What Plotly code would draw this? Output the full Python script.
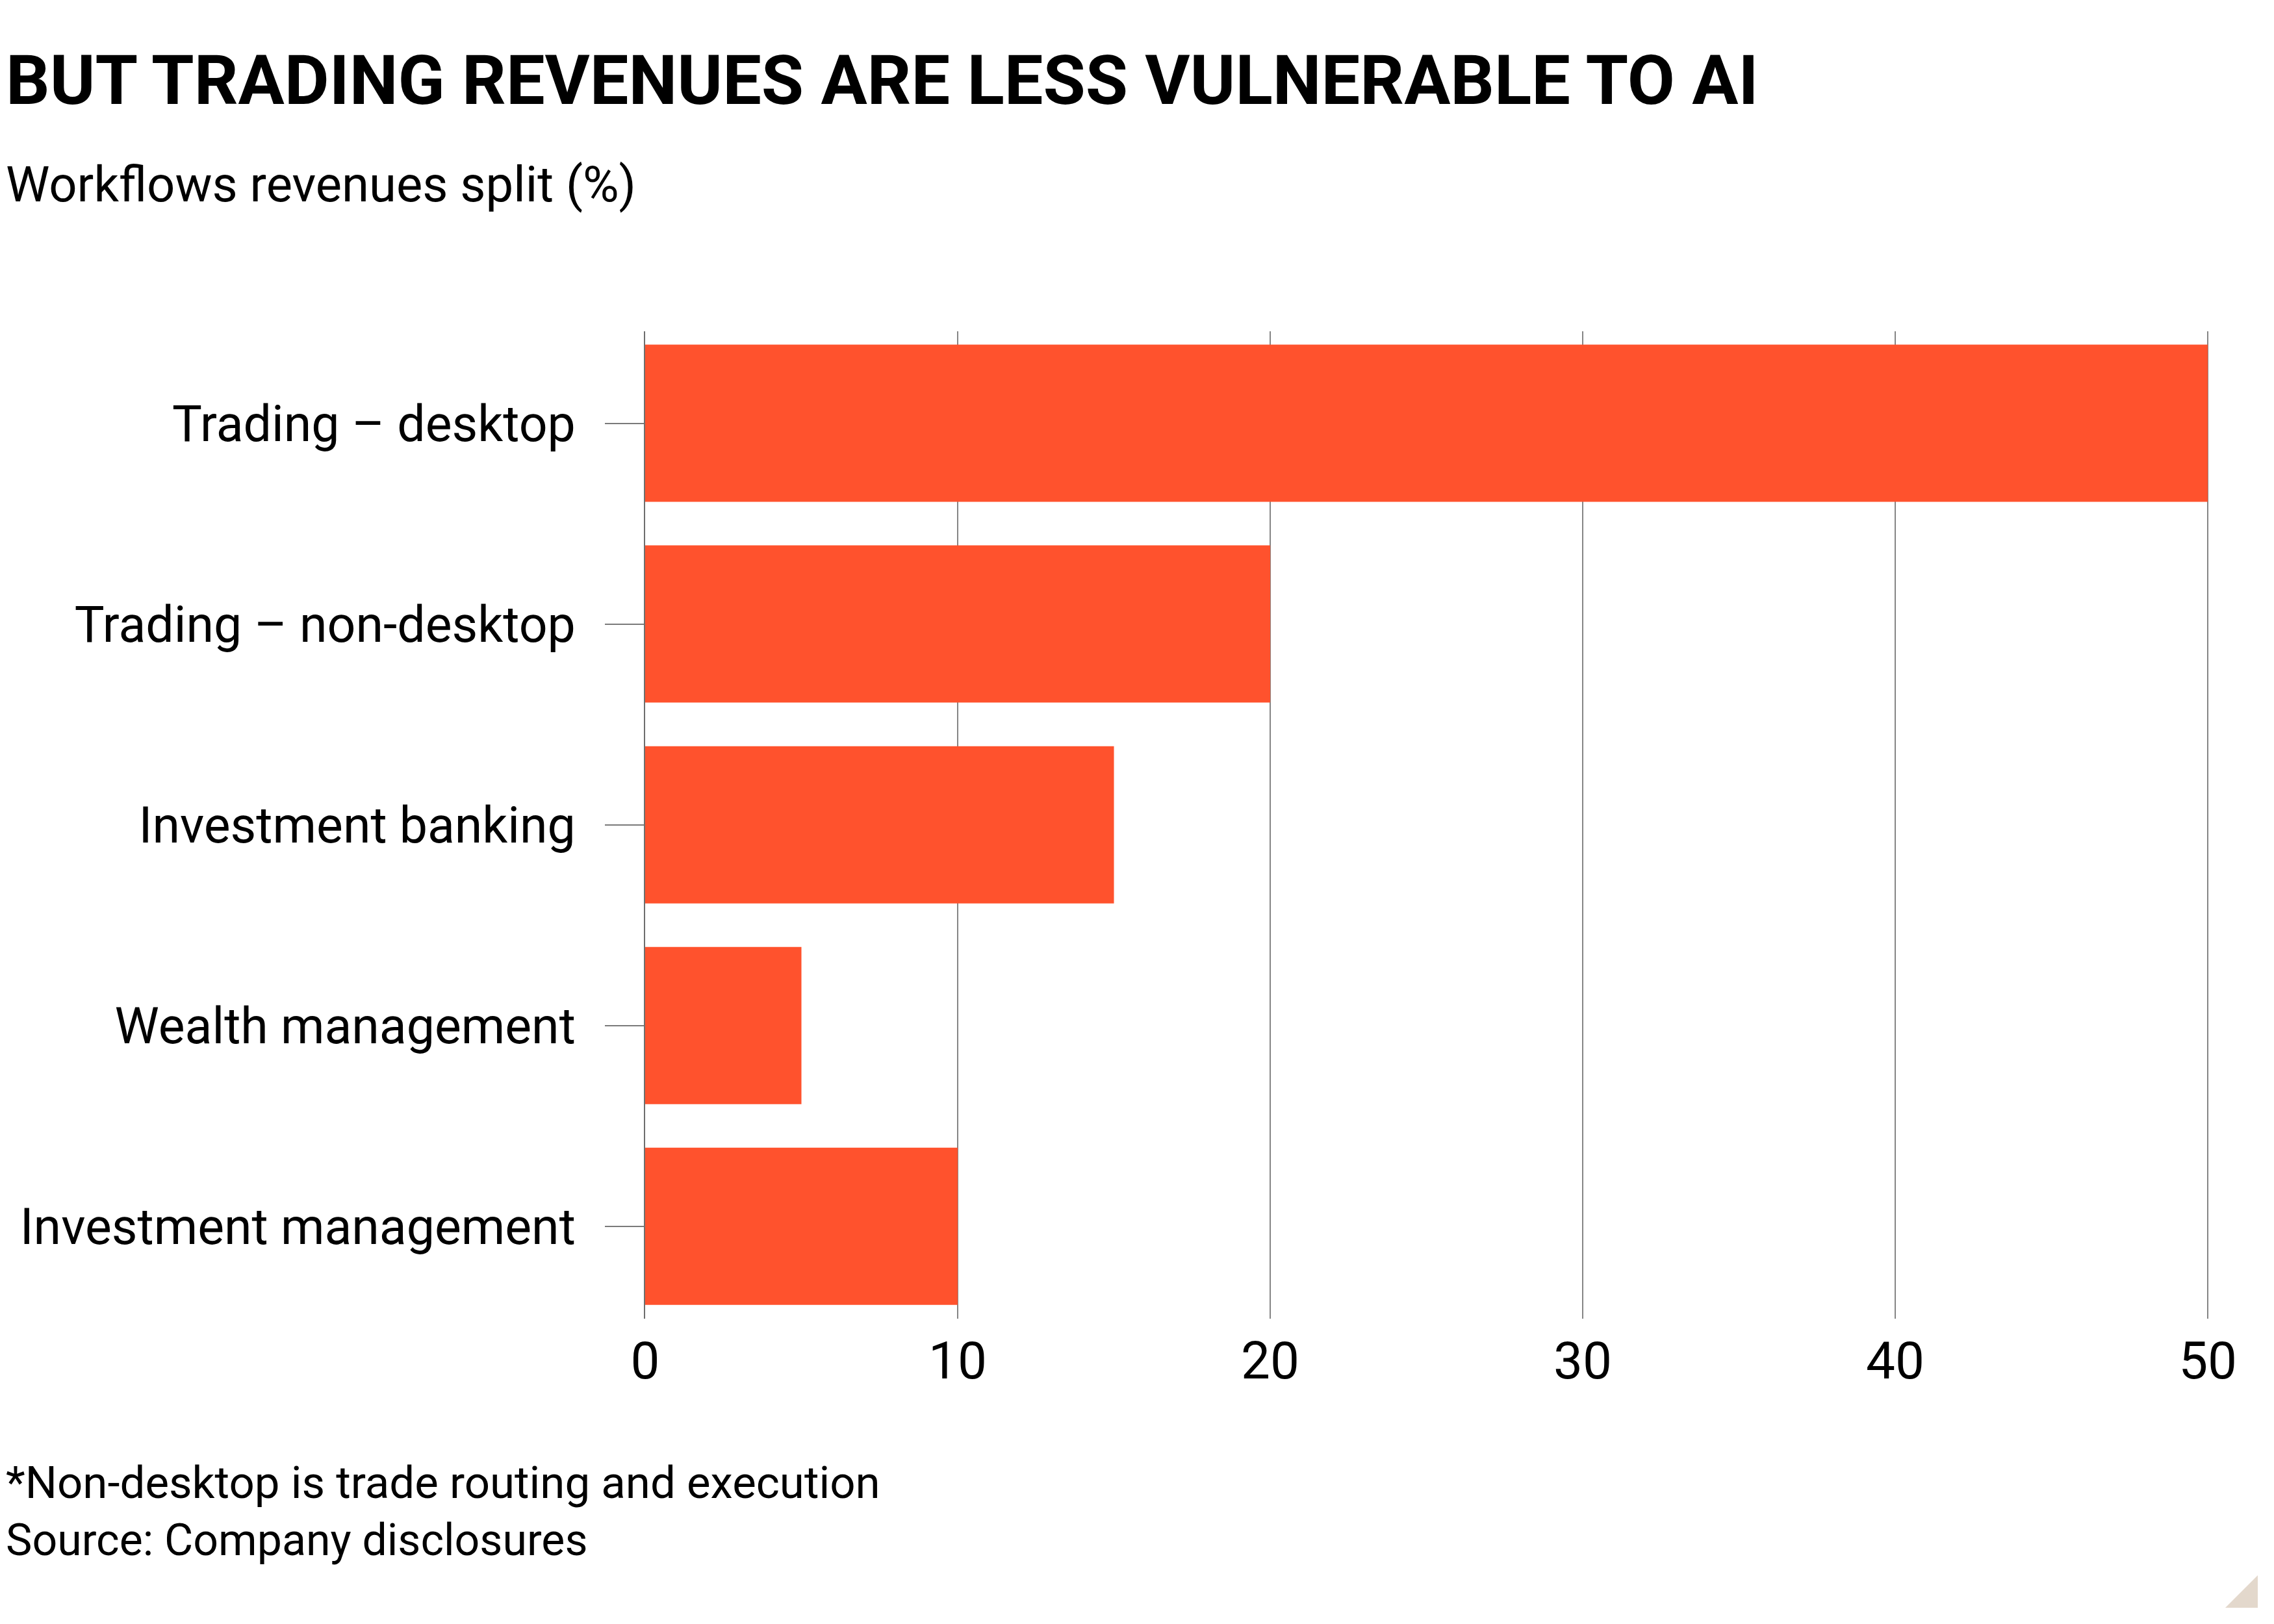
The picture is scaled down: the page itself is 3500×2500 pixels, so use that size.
import plotly.graph_objects as go

categories = ["Trading – desktop", "Trading – non-desktop", "Investment banking",
              "Wealth management", "Investment management"]
values = [50, 20, 15, 5, 10]
x_ticks = [0, 10, 20, 30, 40, 50]
x_tick_labels = ["0", "10", "20", "30", "40", "50"]

title_text = "BUT TRADING REVENUES ARE LESS VULNERABLE TO AI"
subtitle_text = "Workflows revenues split (%)"
footnote_text = "*Non-desktop is trade routing and execution"
source_text = "Source: Company disclosures"

W, H = 3500, 2500
OFF = 8  # page body margin offset
# plot area in page pixels
PLOT_L, PLOT_R, PLOT_T, PLOT_B = 993, 3400, 510, 2030
L = PLOT_L - OFF
R = W - (PLOT_R - OFF)
T = PLOT_T - OFF
B = H - (PLOT_B - OFF)
PW, PH = W - L - R, H - T - B
FONT = "Roboto, Lato, Arial, sans-serif"
BAR = "#FF522D"


def px_x(px):
    return (px - OFF - L) / PW


def px_y(py):
    return (H - B - (py - OFF)) / PH


fig = go.Figure(go.Bar(
    x=values, y=categories, orientation="h",
    marker=dict(color=BAR, line=dict(width=0)),
    width=0.783, hoverinfo="skip",
))

fig.update_layout(
    width=W, height=H,
    margin=dict(l=L, r=R, t=T, b=B, pad=0),
    paper_bgcolor="white", plot_bgcolor="white",
    showlegend=False,
    font=dict(family=FONT, color="#000000"),
    xaxis=dict(
        range=[0, 50.04], tickvals=x_ticks, ticktext=x_tick_labels,
        showgrid=True, gridcolor="#858585", gridwidth=1.5,
        zeroline=False, showline=False, ticks="",
        tickfont=dict(size=80, family=FONT, color="#000"),
        ticklabelstandoff=11,
    ),
    yaxis=dict(
        categoryorder="array", categoryarray=categories,
        range=[4.46, -0.458],
        showgrid=False, zeroline=False,
        showline=True, linecolor="#6e6e6e", linewidth=1.5,
        ticks="outside", ticklen=60, tickcolor="#7a7a7a", tickwidth=1.5,
        tickfont=dict(size=77, family=FONT, color="#000"),
        ticklabelstandoff=30,
    ),
)


def add_text(text, px, baseline, size, bold=False):
    fig.add_annotation(
        text=(f"<b>{text}</b>" if bold else text),
        xref="paper", yref="paper",
        x=px_x(px), y=px_y(baseline - 0.35 * size),
        xanchor="left", yanchor="middle", showarrow=False,
        font=dict(size=size, family=FONT, color="#000"),
        borderpad=0,
    )


add_text(title_text, 8, 161, 106, bold=True)
add_text(subtitle_text, 8, 311, 76)
add_text(footnote_text, 8, 2307, 69)
add_text(source_text, 8, 2395, 68)

fig.add_shape(
    type="path", xref="paper", yref="paper",
    path=(f"M {px_x(3425)} {px_y(2475)} L {px_x(3475)} {px_y(2475)} "
          f"L {px_x(3475)} {px_y(2425)} Z"),
    fillcolor="#E3D8CC", line=dict(width=0), layer="above",
)

fig.write_html("out.html")
